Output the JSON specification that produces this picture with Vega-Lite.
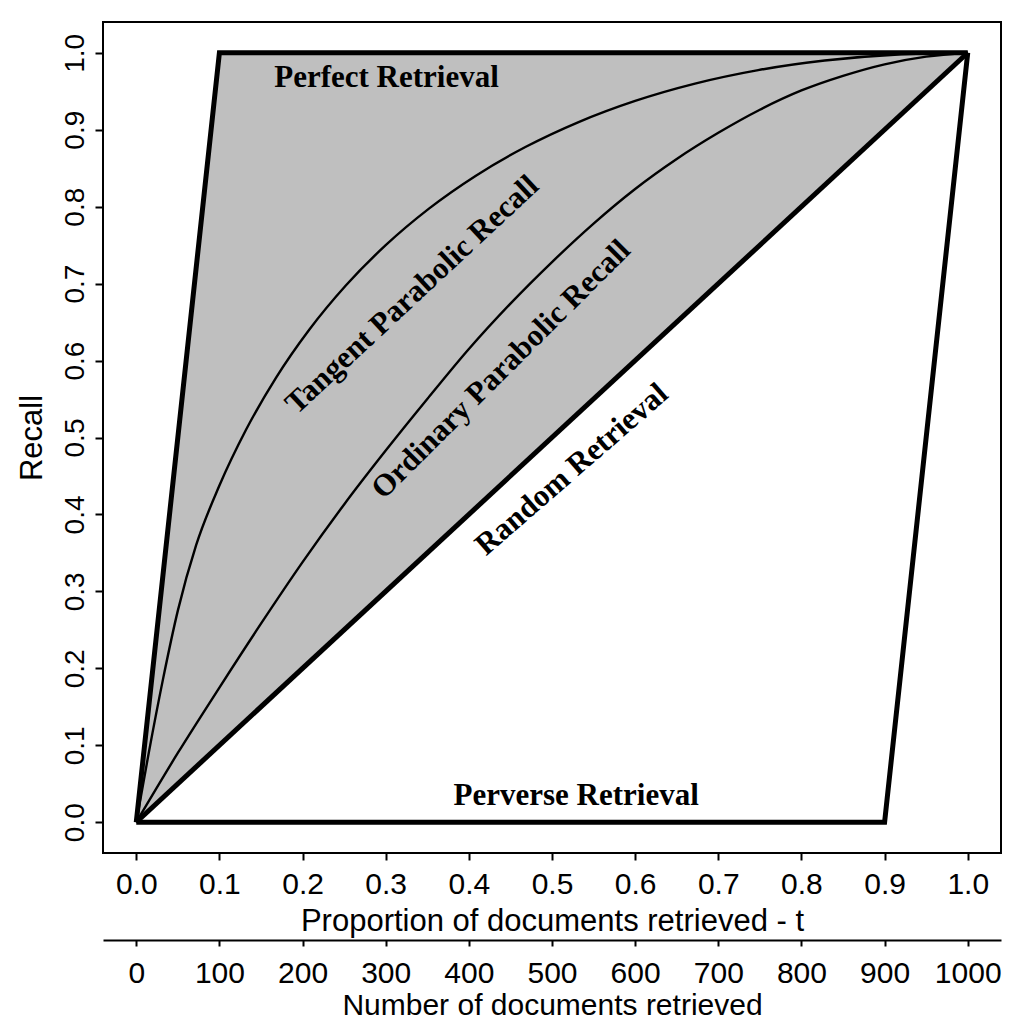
{
  "$schema": "https://vega.github.io/schema/vega-lite/v6.json",
  "width": 898,
  "height": 831,
  "autosize": {"type": "none"},
  "padding": {"left": 103, "top": 22, "right": 16, "bottom": 170},
  "background": "white",
  "config": {
    "view": {"stroke": "black", "strokeWidth": 2},
    "font": "Liberation Sans"
  },
  "resolve": {"scale": {"x": "independent"}},
  "layer": [
    {
      "layer": [
        {
          "data": {"values": [
            {"t": 0, "upper": 0, "lower": 0},
            {"t": 0.1, "upper": 1, "lower": 0.1},
            {"t": 1, "upper": 1, "lower": 1}
          ]},
          "mark": {"type": "area", "color": "#bfbfbf", "opacity": 1},
          "encoding": {
            "x": {
              "field": "t", "type": "quantitative",
              "scale": {"domain": [-0.04, 1.04], "nice": false, "zero": false},
              "axis": {
                "orient": "bottom",
                "values": [0, 0.1, 0.2, 0.3, 0.4, 0.5, 0.6, 0.7, 0.8, 0.9, 1],
                "format": ".1f",
                "title": "Proportion of documents retrieved - t",
                "grid": false, "domain": false,
                "tickSize": 7, "tickWidth": 2, "tickColor": "black",
                "labelFont": "Liberation Sans", "labelFontSize": 30, "labelColor": "black",
                "labelPadding": 33, "labelBaseline": "alphabetic",
                "labelFlush": false, "labelOverlap": false,
                "titleFont": "Liberation Sans", "titleFontSize": 31, "titleFontWeight": "normal",
                "titleColor": "black", "titleBaseline": "alphabetic", "titleY": 77
              }
            },
            "y": {
              "field": "upper", "type": "quantitative",
              "scale": {"domain": [-0.04, 1.04], "nice": false, "zero": false},
              "axis": {
                "orient": "left",
                "values": [0, 0.1, 0.2, 0.3, 0.4, 0.5, 0.6, 0.7, 0.8, 0.9, 1],
                "format": ".1f",
                "title": "Recall",
                "grid": false, "domain": false,
                "tickSize": 8, "tickWidth": 2, "tickColor": "black",
                "labelFont": "Liberation Sans", "labelFontSize": 28, "labelColor": "black",
                "labelAngle": -90, "labelAlign": "center", "labelBaseline": "alphabetic",
                "labelPadding": 12, "labelFlush": false, "labelOverlap": false,
                "titleFont": "Liberation Sans", "titleFontSize": 31, "titleFontWeight": "normal",
                "titleColor": "black", "titleAngle": -90, "titleAlign": "center",
                "titleBaseline": "alphabetic", "titleX": -62, "titleY": 415.5
              }
            },
            "y2": {"field": "lower"}
          }
        },
        {
          "data": {"values": [
            {"curve": "perfect", "t": 0, "r": 0},
            {"curve": "perfect", "t": 0.1, "r": 1},
            {"curve": "perfect", "t": 1, "r": 1},
            {"curve": "random", "t": 0, "r": 0},
            {"curve": "random", "t": 1, "r": 1},
            {"curve": "perverse", "t": 0, "r": 0},
            {"curve": "perverse", "t": 0.9, "r": 0},
            {"curve": "perverse", "t": 1, "r": 1}
          ]},
          "mark": {"type": "line", "color": "black", "strokeWidth": 5, "strokeJoin": "miter"},
          "encoding": {
            "x": {"field": "t", "type": "quantitative"},
            "y": {"field": "r", "type": "quantitative"},
            "detail": {"field": "curve"}
          }
        },
        {
          "data": {"values": [
            {"curve": "tangent", "t": 0, "r": 0},
            {"curve": "tangent", "t": 0.015, "r": 0.09},
            {"curve": "tangent", "t": 0.032, "r": 0.185},
            {"curve": "tangent", "t": 0.05, "r": 0.275},
            {"curve": "tangent", "t": 0.072, "r": 0.36},
            {"curve": "tangent", "t": 0.1, "r": 0.4375},
            {"curve": "tangent", "t": 0.132, "r": 0.51},
            {"curve": "tangent", "t": 0.168, "r": 0.5775},
            {"curve": "tangent", "t": 0.208, "r": 0.64},
            {"curve": "tangent", "t": 0.252, "r": 0.6975},
            {"curve": "tangent", "t": 0.3, "r": 0.75},
            {"curve": "tangent", "t": 0.352, "r": 0.7975},
            {"curve": "tangent", "t": 0.408, "r": 0.84},
            {"curve": "tangent", "t": 0.468, "r": 0.8775},
            {"curve": "tangent", "t": 0.532, "r": 0.91},
            {"curve": "tangent", "t": 0.6, "r": 0.9375},
            {"curve": "tangent", "t": 0.672, "r": 0.96},
            {"curve": "tangent", "t": 0.748, "r": 0.9775},
            {"curve": "tangent", "t": 0.828, "r": 0.99},
            {"curve": "tangent", "t": 0.912, "r": 0.9975},
            {"curve": "tangent", "t": 1, "r": 1},
            {"curve": "ordinary", "t": 0, "r": 0},
            {"curve": "ordinary", "t": 0.05, "r": 0.09},
            {"curve": "ordinary", "t": 0.1, "r": 0.175},
            {"curve": "ordinary", "t": 0.15, "r": 0.258},
            {"curve": "ordinary", "t": 0.2, "r": 0.338},
            {"curve": "ordinary", "t": 0.25, "r": 0.413},
            {"curve": "ordinary", "t": 0.3, "r": 0.483},
            {"curve": "ordinary", "t": 0.35, "r": 0.55},
            {"curve": "ordinary", "t": 0.4, "r": 0.615},
            {"curve": "ordinary", "t": 0.45, "r": 0.674},
            {"curve": "ordinary", "t": 0.5, "r": 0.728},
            {"curve": "ordinary", "t": 0.55, "r": 0.778},
            {"curve": "ordinary", "t": 0.6, "r": 0.823},
            {"curve": "ordinary", "t": 0.65, "r": 0.862},
            {"curve": "ordinary", "t": 0.7, "r": 0.896},
            {"curve": "ordinary", "t": 0.75, "r": 0.926},
            {"curve": "ordinary", "t": 0.8, "r": 0.951},
            {"curve": "ordinary", "t": 0.85, "r": 0.97},
            {"curve": "ordinary", "t": 0.9, "r": 0.985},
            {"curve": "ordinary", "t": 0.95, "r": 0.995},
            {"curve": "ordinary", "t": 1, "r": 1}
          ]},
          "mark": {"type": "line", "color": "black", "strokeWidth": 2.4, "interpolate": "monotone"},
          "encoding": {
            "x": {"field": "t", "type": "quantitative"},
            "y": {"field": "r", "type": "quantitative"},
            "detail": {"field": "curve"}
          }
        },
        {
          "data": {"values": [
            {"t": 0.301, "r": 0.967, "label": "Perfect Retrieval"},
            {"t": 0.529, "r": 0.034, "label": "Perverse Retrieval"}
          ]},
          "mark": {"type": "text", "font": "Liberation Serif", "fontWeight": "bold", "fontSize": 31, "align": "center", "baseline": "middle", "color": "black"},
          "encoding": {
            "x": {"field": "t", "type": "quantitative"},
            "y": {"field": "r", "type": "quantitative"},
            "text": {"field": "label"}
          }
        },
        {
          "data": {"values": [{"t": 0.332, "r": 0.685, "label": "Tangent Parabolic Recall"}]},
          "mark": {"type": "text", "font": "Liberation Serif", "fontWeight": "bold", "fontSize": 31, "align": "center", "baseline": "middle", "angle": 317, "color": "black"},
          "encoding": {
            "x": {"field": "t", "type": "quantitative"},
            "y": {"field": "r", "type": "quantitative"},
            "text": {"field": "label"}
          }
        },
        {
          "data": {"values": [{"t": 0.439, "r": 0.588, "label": "Ordinary Parabolic Recall"}]},
          "mark": {"type": "text", "font": "Liberation Serif", "fontWeight": "bold", "fontSize": 31, "align": "center", "baseline": "middle", "angle": 315, "color": "black"},
          "encoding": {
            "x": {"field": "t", "type": "quantitative"},
            "y": {"field": "r", "type": "quantitative"},
            "text": {"field": "label"}
          }
        },
        {
          "data": {"values": [{"t": 0.524, "r": 0.458, "label": "Random Retrieval"}]},
          "mark": {"type": "text", "font": "Liberation Serif", "fontWeight": "bold", "fontSize": 31, "align": "center", "baseline": "middle", "angle": 319, "color": "black"},
          "encoding": {
            "x": {"field": "t", "type": "quantitative"},
            "y": {"field": "r", "type": "quantitative"},
            "text": {"field": "label"}
          }
        }
      ]
    },
    {
      "data": {"values": [{"n": 0}, {"n": 1000}]},
      "mark": {"type": "point", "opacity": 0},
      "encoding": {
        "x": {
          "field": "n", "type": "quantitative",
          "scale": {"domain": [-40, 1040], "nice": false, "zero": false},
          "axis": {
            "orient": "bottom", "offset": 87,
            "values": [0, 100, 200, 300, 400, 500, 600, 700, 800, 900, 1000],
            "format": "d",
            "title": "Number of documents retrieved",
            "grid": false, "domain": true, "domainColor": "black", "domainWidth": 2,
            "tickSize": 6, "tickWidth": 2, "tickColor": "black",
            "labelFont": "Liberation Sans", "labelFontSize": 30, "labelColor": "black",
            "labelPadding": 36, "labelBaseline": "alphabetic",
            "labelFlush": false, "labelOverlap": false,
            "titleFont": "Liberation Sans", "titleFontSize": 30, "titleFontWeight": "normal",
            "titleColor": "black", "titleBaseline": "alphabetic", "titleY": 74
          }
        }
      }
    }
  ]
}
